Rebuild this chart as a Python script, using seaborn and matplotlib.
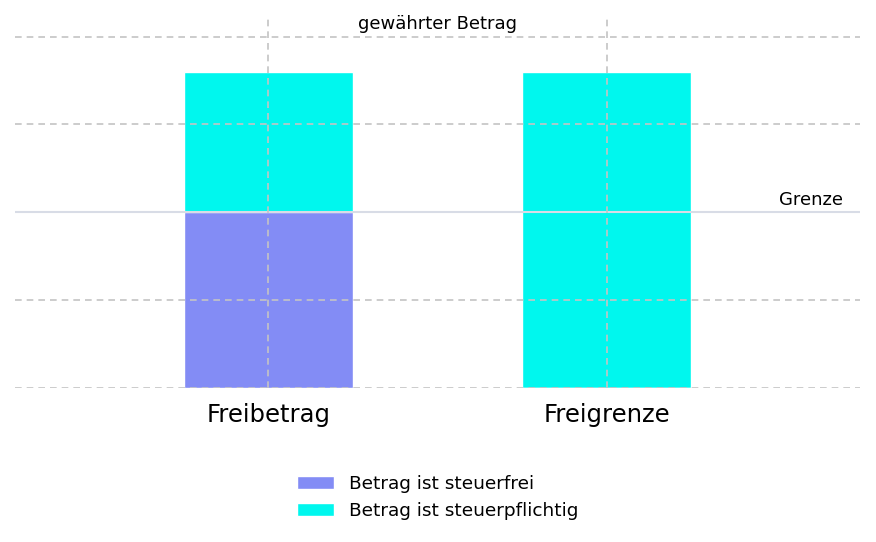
import numpy as np
import pandas as pd
import matplotlib
matplotlib.use("Agg")
import matplotlib.pyplot as plt
import seaborn as sns

# Data
categories = ["Freibetrag", "Freigrenze"]
steuerfrei = [100, 0]
steuerpflichtig = [80, 180]
grenze = 100
grid_levels = [0, 50, 150, 200]

sns.set_style("white")
plt.rcParams["font.family"] = ["DejaVu Sans"]
plt.rcParams["text.color"] = "black"
plt.rcParams["xtick.color"] = "black"

fig, ax = plt.subplots(figsize=(8.76, 5.42), dpi=100)
fig.subplots_adjust(left=0.017, right=0.982, top=0.965, bottom=0.2845)

total = [a + b for a, b in zip(steuerfrei, steuerpflichtig)]
df = pd.DataFrame({"kategorie": categories, "total": total, "frei": steuerfrei})

# cyan total first, purple steuerfrei part on top of it
sns.barplot(data=df, x="kategorie", y="total", color="#00F7EE", width=0.5,
            saturation=1, label="Betrag ist steuerpflichtig", ax=ax, zorder=1)
sns.barplot(data=df, x="kategorie", y="frei", color="#838CF5", width=0.5,
            saturation=1, label="Betrag ist steuerfrei", ax=ax, zorder=1)

ax.set_xlim(-0.75, 1.75)
ax.set_ylim(0, 210)

# grid lines
for lv in grid_levels:
    ax.axhline(lv, color="#C4C4C4", lw=1.2, ls=(0, (4, 3)), zorder=3)
ax.axhline(grenze, color="#D8DCE6", lw=1.5, zorder=3)
for i in range(len(categories)):
    ax.axvline(i, color="#C4C4C4", lw=1.2, ls=(0, (4, 3)), zorder=3)

ax.text(0.5, 201.8, "gewährter Betrag", ha="center", va="bottom", fontsize=13,
        transform=ax.get_yaxis_transform())
ax.text(0.98, grenze + 2, "Grenze", ha="right", va="bottom", fontsize=13,
        transform=ax.get_yaxis_transform())

ax.set_xlabel("")
ax.set_ylabel("")
ax.set_yticks([])
ax.tick_params(axis="x", length=0, labelsize=17.5, pad=11)
sns.despine(ax=ax, left=True, bottom=True)

handles, labels = ax.get_legend_handles_labels()
order = [labels.index("Betrag ist steuerfrei"), labels.index("Betrag ist steuerpflichtig")]
ax.legend([handles[i] for i in order], [labels[i] for i in order],
          loc="upper center", bbox_to_anchor=(0.5, -0.19), frameon=False,
          fontsize=13.3, handlelength=2.05, handleheight=0.7, labelspacing=0.5)

fig.savefig("out.png", dpi=100)
